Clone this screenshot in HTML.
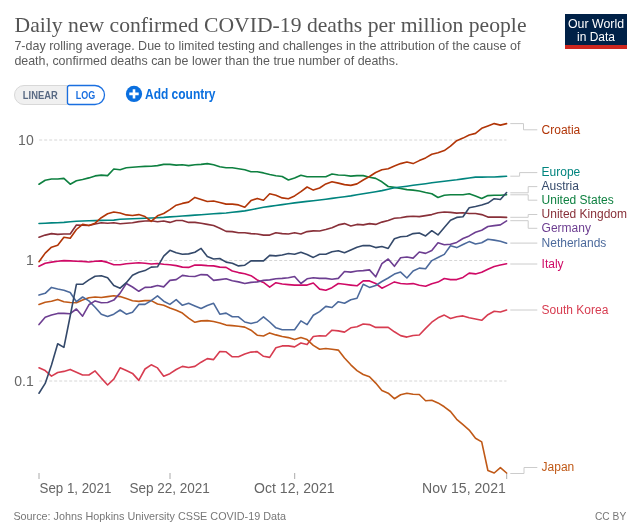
<!DOCTYPE html><html><head><meta charset="utf-8"><style>html,body{margin:0;padding:0;background:#fff;}svg{display:block;will-change:transform}text{font-family:"Liberation Sans",sans-serif}</style></head><body><svg width="641" height="531" viewBox="0 0 641 531"><rect width="641" height="531" fill="#fff"/><text x="14.5" y="31.8" font-family="Liberation Serif" font-size="22" fill="#555" textLength="512" lengthAdjust="spacingAndGlyphs" style="font-family:'Liberation Serif',serif">Daily new confirmed COVID-19 deaths per million people</text><text x="14.4" y="49.9" font-size="13" fill="#5b5b5b" textLength="506" lengthAdjust="spacingAndGlyphs">7-day rolling average. Due to limited testing and challenges in the attribution of the cause of</text><text x="14.4" y="64.9" font-size="13" fill="#5b5b5b" textLength="384" lengthAdjust="spacingAndGlyphs">death, confirmed deaths can be lower than the true number of deaths.</text><rect x="565" y="14" width="62" height="31" fill="#002147"/><rect x="565" y="45" width="62" height="4" fill="#ce261e"/><text x="596" y="28" font-size="12" fill="#fff" text-anchor="middle" textLength="56" lengthAdjust="spacingAndGlyphs">Our World</text><text x="596" y="40.9" font-size="12" fill="#fff" text-anchor="middle" textLength="38" lengthAdjust="spacingAndGlyphs">in Data</text><path d="M67 85.5 H24 A9.5 9.5 0 0 0 24 104.5 H67 Z" fill="#f0f0f0" stroke="#d8d8d8" stroke-width="1"/><path d="M69.5 85.5 H95 A9.5 9.5 0 0 1 95 104.5 H69.5 A2 2 0 0 1 67.5 102.5 V87.5 A2 2 0 0 1 69.5 85.5 Z" fill="#fff" stroke="#1a6fe0" stroke-width="1.3"/><text x="22.8" y="99.1" font-size="10.5" font-weight="bold" fill="#586983" textLength="34.9" lengthAdjust="spacingAndGlyphs">LINEAR</text><text x="75.8" y="99.1" font-size="10.5" font-weight="bold" fill="#1a6fe0" textLength="19.4" lengthAdjust="spacingAndGlyphs">LOG</text><circle cx="134" cy="93.9" r="8.1" fill="#0a6fdf"/><path d="M134 89.2V98.6M129.3 93.9H138.7" stroke="#fff" stroke-width="2.6"/><text x="145" y="98.7" font-size="14" font-weight="bold" fill="#0a6fdf" textLength="70.5" lengthAdjust="spacingAndGlyphs">Add country</text><line x1="39.2" y1="140.0" x2="506.5" y2="140.0" stroke="#d6d6d6" stroke-width="1" stroke-dasharray="3,2"/><line x1="39.2" y1="260.5" x2="506.5" y2="260.5" stroke="#d6d6d6" stroke-width="1" stroke-dasharray="3,2"/><line x1="39.2" y1="381.0" x2="506.5" y2="381.0" stroke="#d6d6d6" stroke-width="1" stroke-dasharray="3,2"/><text x="33.7" y="145" font-size="14" fill="#666" text-anchor="end">10</text><text x="33.7" y="265.2" font-size="14" fill="#666" text-anchor="end">1</text><text x="33.7" y="385.5" font-size="14" fill="#666" text-anchor="end">0.1</text><line x1="39.0" y1="473" x2="39.0" y2="479" stroke="#aaa" stroke-width="1"/><line x1="170.0" y1="473" x2="170.0" y2="479" stroke="#aaa" stroke-width="1"/><line x1="294.7" y1="473" x2="294.7" y2="479" stroke="#aaa" stroke-width="1"/><line x1="506.7" y1="473" x2="506.7" y2="479" stroke="#aaa" stroke-width="1"/><text x="39.5" y="492.8" font-size="14" fill="#666" textLength="71.8" lengthAdjust="spacingAndGlyphs">Sep 1, 2021</text><text x="129.4" y="492.8" font-size="14" fill="#666" textLength="80.5" lengthAdjust="spacingAndGlyphs">Sep 22, 2021</text><text x="254" y="492.8" font-size="14" fill="#666" textLength="80.6" lengthAdjust="spacingAndGlyphs">Oct 12, 2021</text><text x="422.1" y="492.8" font-size="14" fill="#666" textLength="83.7" lengthAdjust="spacingAndGlyphs">Nov 15, 2021</text><text x="13.4" y="519.8" font-size="11" fill="#777" textLength="272.6" lengthAdjust="spacingAndGlyphs">Source: Johns Hopkins University CSSE COVID-19 Data</text><text x="595" y="520" font-size="11" fill="#777" textLength="31.2" lengthAdjust="spacingAndGlyphs">CC BY</text><path d="M39.0 367.8 L45.2 370.6 L51.5 376.1 L57.7 372.5 L63.9 371.4 L70.2 369.4 L76.4 372.2 L82.6 375.0 L88.9 375.0 L95.1 370.9 L101.3 378.1 L107.6 385.0 L113.8 379.2 L120.1 367.8 L126.3 370.6 L132.5 373.4 L138.8 380.4 L145.0 369.0 L151.2 364.8 L157.5 367.9 L163.7 376.2 L169.9 373.7 L176.2 369.5 L182.4 366.4 L188.6 367.5 L194.9 366.4 L201.1 362.2 L207.3 358.6 L213.6 359.6 L219.8 351.6 L226.1 351.8 L232.3 356.8 L238.5 356.8 L244.8 354.0 L251.0 352.1 L257.2 351.6 L263.5 356.3 L269.7 357.4 L275.9 347.7 L282.2 345.9 L288.4 345.9 L294.6 346.9 L300.9 343.0 L307.1 344.6 L313.3 336.5 L319.6 335.7 L325.8 336.0 L332.0 330.2 L338.3 330.9 L344.5 332.1 L350.8 327.8 L357.0 326.7 L363.2 324.0 L369.5 324.6 L375.7 327.4 L381.9 327.4 L388.2 327.4 L394.4 331.8 L400.6 335.6 L406.9 337.1 L413.1 335.5 L419.3 335.0 L425.6 328.4 L431.8 322.2 L438.0 317.8 L444.3 315.1 L450.5 318.5 L456.7 316.7 L463.0 315.9 L469.2 317.8 L475.5 319.0 L481.7 320.3 L487.9 314.7 L494.2 311.2 L500.4 312.0 L506.6 310.0" fill="none" stroke="#D73C50" stroke-width="1.6" stroke-linejoin="round" stroke-linecap="round"/><path d="M39.0 304.4 L45.2 302.2 L51.5 301.2 L57.7 299.4 L63.9 301.7 L70.2 302.5 L76.4 302.8 L82.6 300.1 L88.9 297.8 L95.1 297.0 L101.3 297.5 L107.6 296.6 L113.8 295.8 L120.1 296.6 L126.3 298.6 L132.5 300.7 L138.8 301.4 L145.0 300.6 L151.2 300.6 L157.5 304.0 L163.7 305.3 L169.9 307.9 L176.2 310.3 L182.4 313.1 L188.6 318.1 L194.9 322.3 L201.1 320.9 L207.3 320.6 L213.6 321.5 L219.8 323.1 L226.1 325.1 L232.3 325.6 L238.5 326.2 L244.8 327.1 L251.0 330.2 L257.2 335.2 L263.5 336.0 L269.7 332.9 L275.9 334.9 L282.2 336.5 L288.4 337.6 L294.6 339.6 L300.9 337.6 L307.1 339.6 L313.3 345.4 L319.6 349.3 L325.8 348.5 L332.0 349.3 L338.3 350.1 L344.5 358.0 L350.8 364.8 L357.0 370.6 L363.2 374.5 L369.5 376.8 L375.7 383.1 L381.9 390.6 L388.2 393.2 L394.4 398.7 L400.6 394.8 L406.9 393.2 L413.1 394.3 L419.3 394.5 L425.6 400.7 L431.8 400.2 L438.0 402.9 L444.3 406.8 L450.5 411.5 L456.7 419.3 L463.0 424.7 L469.2 430.1 L475.5 438.3 L481.7 441.9 L487.9 470.5 L494.2 473.0 L500.4 467.6 L506.6 473.0" fill="none" stroke="#C05917" stroke-width="1.6" stroke-linejoin="round" stroke-linecap="round"/><path d="M39.0 266.3 L45.2 263.2 L51.5 262.1 L57.7 261.2 L63.9 260.6 L70.2 260.9 L76.4 261.2 L82.6 261.4 L88.9 262.0 L95.1 261.2 L101.3 260.9 L107.6 262.4 L113.8 264.8 L120.1 264.8 L126.3 263.7 L132.5 263.2 L138.8 262.8 L145.0 263.2 L151.2 264.0 L157.5 263.5 L163.7 264.3 L169.9 264.8 L176.2 265.6 L182.4 267.1 L188.6 267.4 L194.9 265.1 L201.1 265.1 L207.3 265.6 L213.6 265.9 L219.8 267.1 L226.1 267.4 L232.3 271.0 L238.5 272.6 L244.8 273.7 L251.0 275.7 L257.2 279.9 L263.5 282.4 L269.7 287.1 L275.9 282.7 L282.2 284.0 L288.4 284.6 L294.6 285.1 L300.9 285.1 L307.1 285.1 L313.3 283.0 L319.6 289.1 L325.8 290.2 L332.0 287.7 L338.3 283.5 L344.5 284.3 L350.8 285.1 L357.0 285.8 L363.2 280.9 L369.5 280.9 L375.7 283.5 L381.9 288.2 L388.2 285.1 L394.4 281.9 L400.6 283.5 L406.9 284.0 L413.1 283.6 L419.3 285.3 L425.6 286.3 L431.8 283.7 L438.0 282.1 L444.3 278.5 L450.5 279.6 L456.7 279.6 L463.0 277.4 L469.2 273.1 L475.5 273.9 L481.7 272.3 L487.9 269.2 L494.2 266.5 L500.4 265.0 L506.6 263.7" fill="none" stroke="#CF0A66" stroke-width="1.6" stroke-linejoin="round" stroke-linecap="round"/><path d="M39.0 295.1 L45.2 293.3 L51.5 287.4 L57.7 289.0 L63.9 290.2 L70.2 292.5 L76.4 301.7 L82.6 297.0 L88.9 300.9 L95.1 307.2 L101.3 314.2 L107.6 316.5 L113.8 314.2 L120.1 310.0 L126.3 314.2 L132.5 312.2 L138.8 304.4 L145.0 304.4 L151.2 300.6 L157.5 295.9 L163.7 301.2 L169.9 304.4 L176.2 299.7 L182.4 305.3 L188.6 303.3 L194.9 305.9 L201.1 308.4 L207.3 305.6 L213.6 303.3 L219.8 314.2 L226.1 313.1 L232.3 316.8 L238.5 316.8 L244.8 322.0 L251.0 323.5 L257.2 322.0 L263.5 316.8 L269.7 322.0 L275.9 327.8 L282.2 329.8 L288.4 329.8 L294.6 329.8 L300.9 320.9 L307.1 324.6 L313.3 315.3 L319.6 311.6 L325.8 306.4 L332.0 307.5 L338.3 301.7 L344.5 303.3 L350.8 299.7 L357.0 298.3 L363.2 284.3 L369.5 287.4 L375.7 285.5 L381.9 281.5 L388.2 278.0 L394.4 274.1 L400.6 272.1 L406.9 278.0 L413.1 271.0 L419.3 268.1 L425.6 268.7 L431.8 260.6 L438.0 257.5 L444.3 254.4 L450.5 245.8 L456.7 247.6 L463.0 244.5 L469.2 241.6 L475.5 244.0 L481.7 242.7 L487.9 239.3 L494.2 240.1 L500.4 241.2 L506.6 243.2" fill="none" stroke="#4C6A9C" stroke-width="1.6" stroke-linejoin="round" stroke-linecap="round"/><path d="M39.0 324.6 L45.2 317.3 L51.5 315.0 L57.7 313.4 L63.9 313.4 L70.2 313.7 L76.4 309.0 L82.6 316.2 L88.9 304.8 L95.1 300.9 L101.3 302.8 L107.6 302.5 L113.8 300.1 L120.1 293.1 L126.3 283.5 L132.5 287.0 L138.8 291.3 L145.0 287.4 L151.2 287.1 L157.5 285.5 L163.7 286.9 L169.9 280.4 L176.2 279.6 L182.4 275.4 L188.6 276.2 L194.9 276.5 L201.1 274.6 L207.3 274.9 L213.6 280.4 L219.8 279.6 L226.1 278.8 L232.3 280.8 L238.5 281.9 L244.8 283.5 L251.0 282.4 L257.2 281.9 L263.5 280.4 L269.7 279.9 L275.9 278.8 L282.2 278.4 L288.4 277.7 L294.6 276.5 L300.9 283.5 L307.1 278.8 L313.3 277.7 L319.6 278.4 L325.8 278.4 L332.0 279.3 L338.3 278.4 L344.5 271.5 L350.8 272.1 L357.0 271.0 L363.2 270.6 L369.5 269.9 L375.7 276.8 L381.9 263.7 L388.2 259.0 L394.4 266.3 L400.6 257.8 L406.9 257.0 L413.1 258.1 L419.3 252.0 L425.6 253.4 L431.8 250.5 L438.0 242.7 L444.3 244.7 L450.5 244.3 L456.7 242.4 L463.0 238.5 L469.2 235.9 L475.5 232.3 L481.7 230.2 L487.9 226.5 L494.2 225.6 L500.4 224.9 L506.6 220.9" fill="none" stroke="#6D3E91" stroke-width="1.6" stroke-linejoin="round" stroke-linecap="round"/><path d="M39.0 237.2 L45.2 235.1 L51.5 233.6 L57.7 234.4 L63.9 234.0 L70.2 234.0 L76.4 225.0 L82.6 225.2 L88.9 225.5 L95.1 224.0 L101.3 222.7 L107.6 223.2 L113.8 222.7 L120.1 223.7 L126.3 223.2 L132.5 222.8 L138.8 221.6 L145.0 221.0 L151.2 220.8 L157.5 221.8 L163.7 221.0 L169.9 222.4 L176.2 220.5 L182.4 220.5 L188.6 222.4 L194.9 222.4 L201.1 223.3 L207.3 224.4 L213.6 225.5 L219.8 228.2 L226.1 231.4 L232.3 231.6 L238.5 232.8 L244.8 232.8 L251.0 233.6 L257.2 234.0 L263.5 235.1 L269.7 235.1 L275.9 232.8 L282.2 233.6 L288.4 234.0 L294.6 232.8 L300.9 234.0 L307.1 231.6 L313.3 230.9 L319.6 231.0 L325.8 229.5 L332.0 227.7 L338.3 224.9 L344.5 223.6 L350.8 226.0 L357.0 224.4 L363.2 224.9 L369.5 223.6 L375.7 224.4 L381.9 222.1 L388.2 220.5 L394.4 218.2 L400.6 217.7 L406.9 216.6 L413.1 216.2 L419.3 216.6 L425.6 215.6 L431.8 214.6 L438.0 212.8 L444.3 212.0 L450.5 212.4 L456.7 213.1 L463.0 212.8 L469.2 213.5 L475.5 213.5 L481.7 214.6 L487.9 217.1 L494.2 217.1 L500.4 217.1 L506.6 217.4" fill="none" stroke="#883039" stroke-width="1.6" stroke-linejoin="round" stroke-linecap="round"/><path d="M39.0 184.2 L45.2 180.3 L51.5 179.0 L57.7 179.0 L63.9 178.4 L70.2 184.2 L76.4 180.7 L82.6 179.5 L88.9 177.9 L95.1 175.9 L101.3 175.1 L107.6 175.6 L113.8 169.0 L120.1 169.7 L126.3 167.8 L132.5 167.3 L138.8 166.7 L145.0 166.4 L151.2 166.2 L157.5 165.6 L163.7 164.4 L169.9 164.4 L176.2 165.1 L182.4 164.8 L188.6 165.6 L194.9 164.7 L201.1 164.4 L207.3 163.6 L213.6 164.7 L219.8 166.7 L226.1 167.8 L232.3 167.8 L238.5 168.7 L244.8 169.8 L251.0 171.8 L257.2 171.8 L263.5 172.9 L269.7 174.5 L275.9 175.7 L282.2 176.5 L288.4 180.0 L294.6 178.1 L300.9 175.3 L307.1 176.8 L313.3 176.8 L319.6 176.8 L325.8 176.8 L332.0 174.0 L338.3 175.0 L344.5 175.3 L350.8 176.1 L357.0 175.6 L363.2 175.6 L369.5 177.2 L375.7 178.4 L381.9 181.8 L388.2 186.5 L394.4 187.4 L400.6 188.5 L406.9 189.6 L413.1 190.1 L419.3 191.0 L425.6 192.5 L431.8 193.7 L438.0 197.5 L444.3 195.3 L450.5 194.8 L456.7 194.8 L463.0 194.8 L469.2 193.7 L475.5 195.9 L481.7 198.4 L487.9 195.6 L494.2 195.3 L500.4 195.3 L506.6 194.8" fill="none" stroke="#0e8040" stroke-width="1.6" stroke-linejoin="round" stroke-linecap="round"/><path d="M39.0 393.2 L45.2 383.4 L51.5 365.0 L57.7 343.8 L63.9 347.4 L70.2 316.0 L76.4 284.3 L82.6 284.3 L88.9 279.9 L95.1 276.2 L101.3 275.7 L107.6 277.7 L113.8 285.5 L120.1 288.2 L126.3 282.7 L132.5 275.2 L138.8 272.3 L145.0 270.6 L151.2 267.1 L157.5 266.8 L163.7 256.2 L169.9 250.3 L176.2 252.8 L182.4 254.3 L188.6 253.9 L194.9 252.3 L201.1 248.4 L207.3 256.5 L213.6 259.0 L219.8 258.5 L226.1 262.1 L232.3 263.2 L238.5 265.9 L244.8 265.2 L251.0 260.9 L257.2 260.9 L263.5 260.9 L269.7 255.4 L275.9 255.9 L282.2 255.0 L288.4 253.5 L294.6 254.3 L300.9 252.3 L307.1 254.6 L313.3 257.4 L319.6 254.3 L325.8 254.3 L332.0 251.8 L338.3 250.7 L344.5 252.8 L350.8 250.0 L357.0 247.2 L363.2 245.6 L369.5 245.6 L375.7 247.6 L381.9 246.5 L388.2 248.4 L394.4 238.7 L400.6 236.7 L406.9 236.2 L413.1 233.6 L419.3 233.0 L425.6 235.9 L431.8 230.7 L438.0 234.9 L444.3 227.6 L450.5 220.2 L456.7 217.4 L463.0 216.7 L469.2 207.8 L475.5 206.5 L481.7 205.0 L487.9 203.1 L494.2 198.7 L500.4 199.5 L506.6 192.5" fill="none" stroke="#34496a" stroke-width="1.6" stroke-linejoin="round" stroke-linecap="round"/><path d="M39.0 223.5 L45.2 223.2 L51.5 222.9 L57.7 222.7 L63.9 222.4 L70.2 221.8 L76.4 221.2 L82.6 221.0 L88.9 220.8 L95.1 220.6 L101.3 220.4 L107.6 220.2 L113.8 220.1 L120.1 219.2 L126.3 219.0 L132.5 218.8 L138.8 218.5 L145.0 218.2 L151.2 218.0 L157.5 217.7 L163.7 217.4 L169.9 216.9 L176.2 216.5 L182.4 216.0 L188.6 215.6 L194.9 215.1 L201.1 214.7 L207.3 214.3 L213.6 213.8 L219.8 213.4 L226.1 213.0 L232.3 212.3 L238.5 211.6 L244.8 210.9 L251.0 209.7 L257.2 208.5 L263.5 207.3 L269.7 206.4 L275.9 205.5 L282.2 204.6 L288.4 203.8 L294.6 202.9 L300.9 202.1 L307.1 201.4 L313.3 200.7 L319.6 200.0 L325.8 199.2 L332.0 198.4 L338.3 197.5 L344.5 196.7 L350.8 195.9 L357.0 194.8 L363.2 193.8 L369.5 192.7 L375.7 191.7 L381.9 190.6 L388.2 189.2 L394.4 187.8 L400.6 187.0 L406.9 186.2 L413.1 185.3 L419.3 184.5 L425.6 183.7 L431.8 182.8 L438.0 182.0 L444.3 181.3 L450.5 180.5 L456.7 179.8 L463.0 178.9 L469.2 178.0 L475.5 177.1 L481.7 177.1 L487.9 177.0 L494.2 177.0 L500.4 176.6 L506.6 176.2" fill="none" stroke="#00847E" stroke-width="1.6" stroke-linejoin="round" stroke-linecap="round"/><path d="M39.0 261.7 L45.2 253.1 L51.5 247.2 L57.7 245.3 L63.9 237.2 L70.2 238.3 L76.4 229.5 L82.6 224.3 L88.9 225.5 L95.1 223.2 L101.3 217.7 L107.6 213.8 L113.8 212.0 L120.1 213.0 L126.3 214.9 L132.5 215.5 L138.8 214.6 L145.0 216.6 L151.2 221.3 L157.5 215.8 L163.7 213.5 L169.9 209.6 L176.2 205.2 L182.4 203.4 L188.6 202.1 L194.9 197.4 L201.1 199.5 L207.3 201.5 L213.6 201.0 L219.8 202.6 L226.1 204.1 L232.3 204.1 L238.5 204.9 L244.8 207.3 L251.0 200.6 L257.2 198.4 L263.5 200.2 L269.7 193.7 L275.9 195.2 L282.2 197.9 L288.4 198.7 L294.6 195.9 L300.9 191.7 L307.1 187.0 L313.3 190.1 L319.6 188.0 L325.8 183.9 L332.0 181.8 L338.3 183.1 L344.5 184.6 L350.8 185.4 L357.0 183.9 L363.2 180.0 L369.5 176.5 L375.7 172.5 L381.9 169.8 L388.2 168.7 L394.4 165.9 L400.6 163.6 L406.9 162.0 L413.1 163.6 L419.3 160.6 L425.6 157.9 L431.8 154.3 L438.0 152.8 L444.3 150.6 L450.5 146.2 L456.7 140.7 L463.0 138.1 L469.2 135.0 L475.5 133.4 L481.7 128.3 L487.9 125.9 L494.2 123.6 L500.4 125.1 L506.6 123.6" fill="none" stroke="#B13507" stroke-width="1.6" stroke-linejoin="round" stroke-linecap="round"/><path d="M510.3 123.6 H523.5 V129.8 H537.3" fill="none" stroke="#ccc" stroke-width="1"/><text x="541.6" y="134.0" font-size="12" fill="#B13507">Croatia</text><path d="M510.3 176.2 H519.6 V172.6 H537.3" fill="none" stroke="#ccc" stroke-width="1"/><text x="541.6" y="176.4" font-size="12" fill="#00847E">Europe</text><path d="M510.3 192.8 H528.2 V186.6 H537.3" fill="none" stroke="#ccc" stroke-width="1"/><text x="541.6" y="190.2" font-size="12" fill="#34496a">Austria</text><path d="M510.3 194.8 H528.2 V200.2 H537.3" fill="none" stroke="#ccc" stroke-width="1"/><text x="541.6" y="203.9" font-size="12" fill="#0e8040">United States</text><path d="M510.3 217.3 H528.2 V214.5 H537.3" fill="none" stroke="#ccc" stroke-width="1"/><text x="541.6" y="218.4" font-size="12" fill="#883039">United Kingdom</text><path d="M510.3 220.7 H528.2 V228.3 H537.3" fill="none" stroke="#ccc" stroke-width="1"/><text x="541.6" y="232.2" font-size="12" fill="#6D3E91">Germany</text><path d="M510.3 243.1 H537.3" fill="none" stroke="#ccc" stroke-width="1"/><text x="541.6" y="247.0" font-size="12" fill="#4C6A9C">Netherlands</text><path d="M510.3 264.0 H537.3" fill="none" stroke="#ccc" stroke-width="1"/><text x="541.6" y="268.0" font-size="12" fill="#CF0A66">Italy</text><path d="M510.3 310.0 H537.3" fill="none" stroke="#ccc" stroke-width="1"/><text x="541.6" y="314.0" font-size="12" fill="#D73C50">South Korea</text><path d="M510.3 473.5 H524 V467.5 H537.3" fill="none" stroke="#ccc" stroke-width="1"/><text x="541.6" y="471.2" font-size="12" fill="#C05917">Japan</text></svg></body></html>
